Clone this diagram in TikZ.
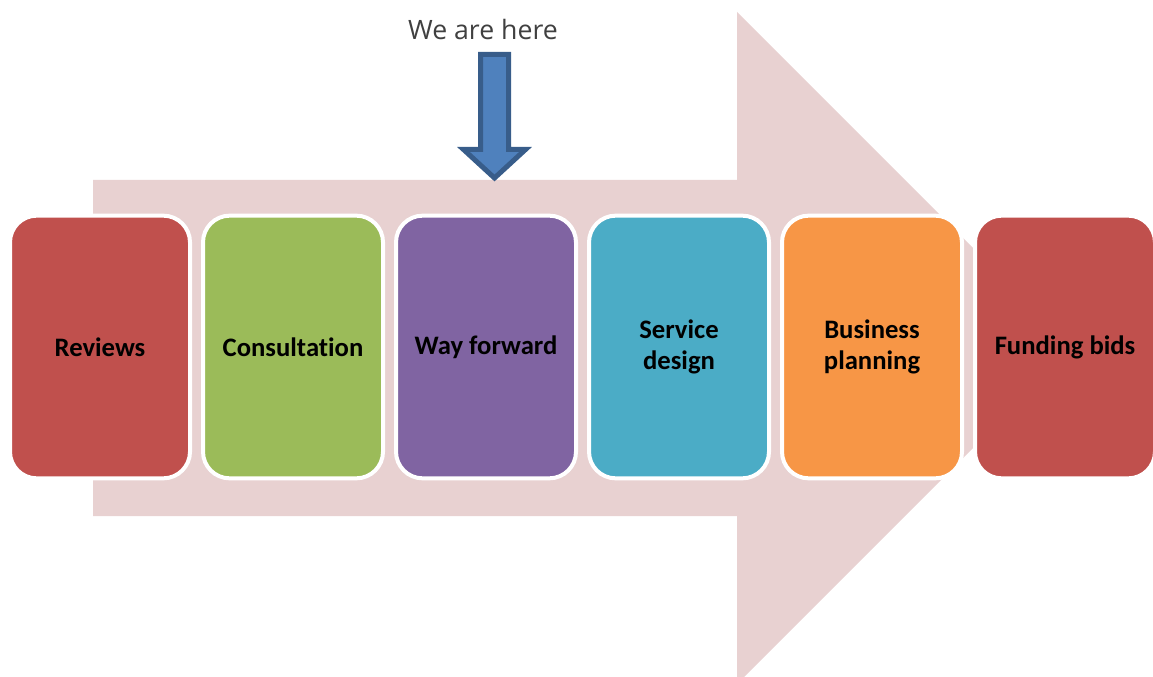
\documentclass[tikz,border=0pt]{standalone}
\usepackage{fontspec}
\setmainfont{Carlito}[Ligatures=NoCommon]
\newfontfamily\labelfont{Open Sans}
\usetikzlibrary{positioning}

\definecolor{stepred}{HTML}{C0504D}
\definecolor{stepgreen}{HTML}{9BBB59}
\definecolor{steppurple}{HTML}{8064A2}
\definecolor{stepteal}{HTML}{4BACC6}
\definecolor{steporange}{HTML}{F79646}
\definecolor{arrowpink}{HTML}{E8D1D1}
\definecolor{hereblue}{HTML}{4F81BD}
\definecolor{hereedge}{HTML}{385D8A}

\tikzset{
  stage/.style={draw=white, line width=3pt, rounded corners=20pt,
    minimum width=135pt, minimum height=197pt, align=center,
    font=\fontsize{20}{23}\selectfont\bfseries, inner sep=2pt},
}

\begin{document}
\begin{tikzpicture}[x=0.75pt,y=-0.75pt, node distance=6.75pt]
\useasboundingbox (0,0) rectangle (1153,677);
% the big process arrow behind the stages
\fill[arrowpink] (93,180) -- (737,180) -- (737,12) -- (1073,348)
  -- (737,684) -- (737,516) -- (93,516) -- cycle;
% stages
\node[stage, fill=stepred] (reviews) at (100,347) {Reviews};
\node[stage, fill=stepgreen, right=of reviews] (consult) {Consultation};
\node[stage, fill=steppurple, right=of consult] (way) {Way forward};
\node[stage, fill=stepteal, right=of way] (service) {Service\\design};
\node[stage, fill=steporange, right=of service] (business) {Business\\planning};
\node[stage, fill=stepred, right=of business] (funding) {Funding bids};
% marker
\node[font=\labelfont\fontsize{20}{24}\selectfont, text=black!75] (here) at (483,30) {We are here};
\draw[hereedge, fill=hereblue, line width=3.75pt, line join=miter]
  (480.5,54.5) -- (508.5,54.5) -- (508.5,149.5) -- (525.5,149.5)
  -- (494.5,178) -- (463.5,149.5) -- (480.5,149.5) -- cycle;
\end{tikzpicture}
\end{document}
